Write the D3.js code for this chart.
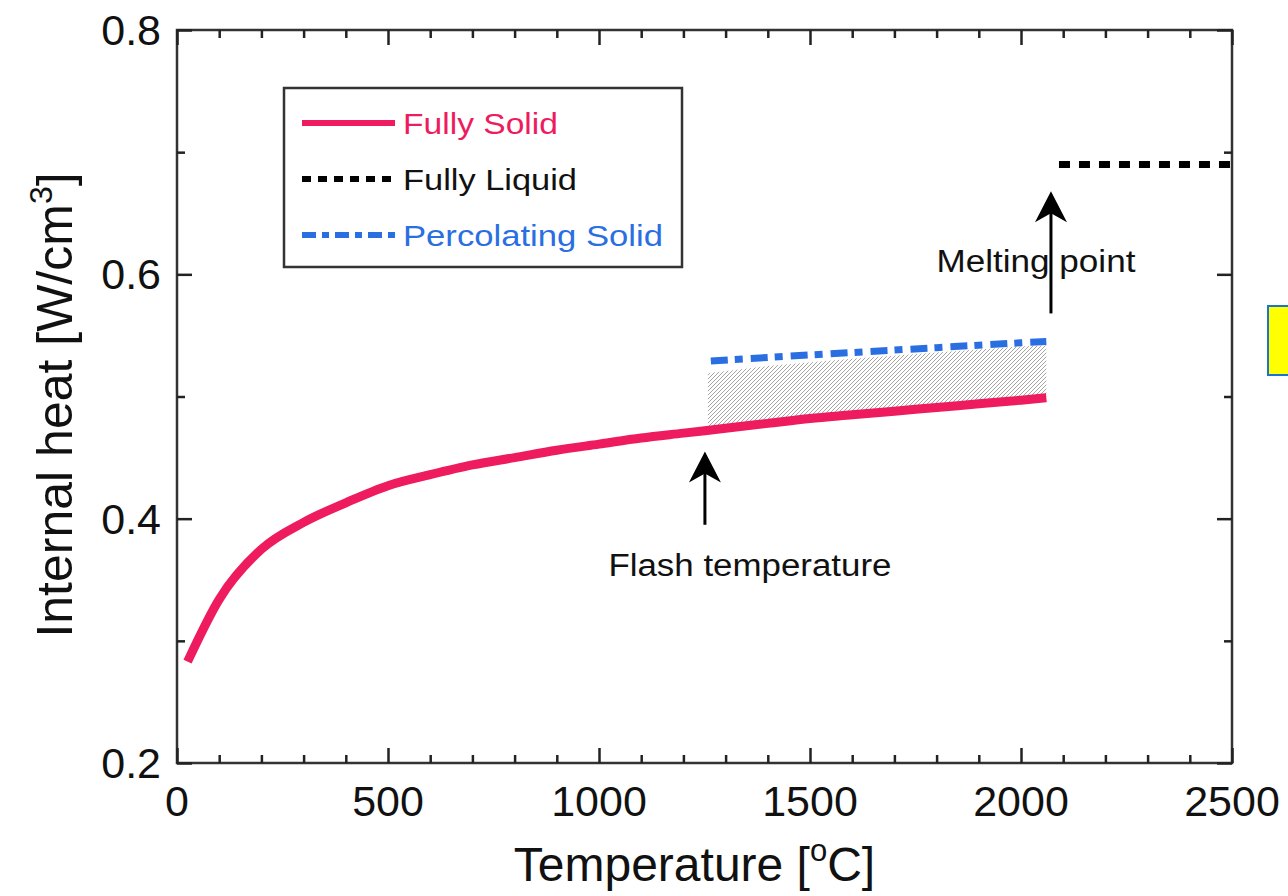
<!DOCTYPE html>
<html>
<head>
<meta charset="utf-8">
<script src="https://cdn.jsdelivr.net/npm/d3@7"></script>
<style>
  body { margin: 0; background: #ffffff; }
  svg { display: block; font-family: "Liberation Sans", Arial, sans-serif; }
</style>
</head>
<body>
<div id="chart"></div>
<script>
// Fully solid curve (temperature in °C, internal heat in W/cm3)
const solidT    = [25, 100, 200, 300, 400, 500, 600, 700, 800, 900, 1000, 1100, 1200, 1300, 1400, 1500, 1600, 1700, 1800, 1900, 2000, 2060];
const solidHeat = [0.283, 0.334, 0.375, 0.397, 0.413, 0.427, 0.436, 0.444, 0.450, 0.456, 0.461, 0.466, 0.470, 0.474, 0.478, 0.482, 0.485, 0.488, 0.491, 0.494, 0.497, 0.499];

// Percolating solid (dash-dot)
const percT    = [1265, 1400, 1600, 1800, 2000, 2060];
const percHeat = [0.529, 0.532, 0.536, 0.540, 0.544, 0.545];

// Fully liquid (dotted)
const liquidT    = [2090, 2500];
const liquidHeat = [0.690, 0.690];

// Hatched band between solid and percolating
const bandT    = [1258, 1400, 1600, 1800, 2000, 2060];
const bandLow  = [0.473, 0.478, 0.485, 0.491, 0.497, 0.499];
const bandHigh = [0.519, 0.525, 0.531, 0.536, 0.541, 0.542];

// Axes
const xTicks = [0, 500, 1000, 1500, 2000, 2500];
const yTicks = [0.2, 0.4, 0.6, 0.8];

// Annotations: [label, temperature, arrow tail, arrow tip]
const flashNote = ["Flash temperature", 1251, 0.395, 0.455];
const meltNote  = ["Melting point", 2071, 0.568, 0.668];

const legendItems = [
    { label: "Fully Solid", color: "#ee1b5e", dash: null, len: 155 },
    { label: "Fully Liquid", color: "#000000", dash: "9,7", len: 174 },
    { label: "Percolating Solid", color: "#2a6fe2", dash: "14,6,7,6", len: 260 }
];

const W = 1288, H = 896;
const margin = { top: 30, right: 56, bottom: 133, left: 177 },
    width = W - margin.left - margin.right,
    height = H - margin.top - margin.bottom;

const svgRoot = d3.select("#chart")
    .append("svg")
    .attr("width", W)
    .attr("height", H);

// Hatch pattern for the band
const defs = svgRoot.append("defs");
const pat = defs.append("pattern")
    .attr("id", "hatch")
    .attr("patternUnits", "userSpaceOnUse")
    .attr("width", 4)
    .attr("height", 4);
pat.append("path")
    .attr("d", "M-1,1 L1,-1 M0,4 L4,0 M3,5 L5,3")
    .attr("stroke", "#a5a5a5")
    .attr("stroke-width", 1);

const svg = svgRoot.append("g")
    .attr("transform", `translate(${margin.left},${margin.top})`);

const x = d3.scaleLinear().domain([0, 2500]).range([0, width]);
const y = d3.scaleLinear().domain([0.2, 0.8]).range([height, 0]);

// Band
const band = bandT.map((t, i) => ({ t: t, lo: bandLow[i], hi: bandHigh[i] }));
svg.append("path")
    .datum(band)
    .attr("fill", "url(#hatch)")
    .attr("d", d3.area().x(d => x(d.t)).y0(d => y(d.lo)).y1(d => y(d.hi)));

const line = d3.line().x(d => x(d[0])).y(d => y(d[1]));

// Fully solid
svg.append("path")
    .datum(solidT.map((t, i) => [t, solidHeat[i]]))
    .attr("fill", "none")
    .attr("stroke", "#ee1b5e")
    .attr("stroke-width", 9)
    .attr("stroke-linejoin", "round")
    .attr("d", line.curve(d3.curveMonotoneX));

line.curve(d3.curveLinear);

// Percolating solid
svg.append("path")
    .datum(percT.map((t, i) => [t, percHeat[i]]))
    .attr("fill", "none")
    .attr("stroke", "#2a6fe2")
    .attr("stroke-width", 7)
    .attr("stroke-dasharray", "17,7,8,8")
    .attr("d", line);

// Fully liquid
svg.append("path")
    .datum(liquidT.map((t, i) => [t, liquidHeat[i]]))
    .attr("fill", "none")
    .attr("stroke", "#000000")
    .attr("stroke-width", 7)
    .attr("stroke-dasharray", "11,9")
    .attr("d", line);

// Frame
svg.append("rect")
    .attr("width", width)
    .attr("height", height)
    .attr("fill", "none")
    .attr("stroke", "#333333")
    .attr("stroke-width", 2.5);

// Inward ticks on all four sides
const xMinor = d3.range(0, 2501, 100).filter(v => v % 500 !== 0);
const yMinor = [0.3, 0.5, 0.7];
const tickSides = [
    { axis: d3.axisBottom(x), t: `translate(0,${height})`, major: xTicks, minor: xMinor },
    { axis: d3.axisTop(x), t: "translate(0,0)", major: xTicks, minor: xMinor },
    { axis: d3.axisLeft(y), t: "translate(0,0)", major: yTicks, minor: yMinor },
    { axis: d3.axisRight(y), t: `translate(${width},0)`, major: yTicks, minor: yMinor }
];
tickSides.forEach(s => {
    [[s.major, 15], [s.minor, 8]].forEach(([vals, len]) => {
        const g = svg.append("g")
            .attr("transform", s.t)
            .call(s.axis.tickValues(vals).tickSize(-len).tickFormat(""));
        g.select(".domain").remove();
        g.selectAll(".tick line").attr("stroke", "#222").attr("stroke-width", 2.5);
    });
});

// Tick labels
svg.selectAll(".xlab")
    .data(xTicks)
    .enter()
    .append("text")
    .attr("x", d => x(d))
    .attr("y", height + 53)
    .attr("text-anchor", "middle")
    .attr("font-size", "43px")
    .attr("fill", "#111")
    .text(d => d);

svg.selectAll(".ylab")
    .data(yTicks)
    .enter()
    .append("text")
    .attr("x", -16)
    .attr("y", d => y(d) + 15)
    .attr("text-anchor", "end")
    .attr("font-size", "43px")
    .attr("fill", "#111")
    .text(d => d.toFixed(1));

// Axis titles
const xt = svg.append("text")
    .attr("x", width / 2 - 10)
    .attr("y", height + 118)
    .attr("text-anchor", "middle")
    .attr("font-size", "48px")
    .attr("fill", "#111");
xt.append("tspan").text("Temperature [");
xt.append("tspan").attr("dy", -20).attr("font-size", "31px").text("o");
xt.append("tspan").attr("dy", 20).text("C]");

const yt = svg.append("text")
    .attr("transform", "rotate(-90)")
    .attr("x", -(405 - margin.top))
    .attr("y", -105)
    .attr("text-anchor", "middle")
    .attr("font-size", "50px")
    .attr("fill", "#111");
yt.append("tspan").text("Internal heat [W/cm");
yt.append("tspan").attr("dy", -20).attr("font-size", "32px").text("3");
yt.append("tspan").attr("dy", 20).text("]");

// Legend
const legend = svg.append("g").attr("transform", "translate(107,58)");
legend.append("rect")
    .attr("width", 398)
    .attr("height", 179)
    .attr("fill", "#ffffff")
    .attr("stroke", "#333333")
    .attr("stroke-width", 2.5);
legendItems.forEach((d, i) => {
    const ly = 35 + i * 56;
    legend.append("line")
        .attr("x1", 18).attr("x2", 111)
        .attr("y1", ly).attr("y2", ly)
        .attr("stroke", d.color)
        .attr("stroke-width", 6)
        .attr("stroke-dasharray", d.dash);
    legend.append("text")
        .attr("x", 119)
        .attr("y", ly + 11)
        .attr("font-size", "29px")
        .attr("textLength", d.len)
        .attr("lengthAdjust", "spacingAndGlyphs")
        .attr("fill", d.color === "#000000" ? "#111" : d.color)
        .text(d.label);
});

// Arrows
[flashNote, meltNote].forEach(n => {
    const tx = x(n[1]), ty = y(n[3]);
    svg.append("line")
        .attr("x1", tx).attr("x2", tx)
        .attr("y1", y(n[2])).attr("y2", ty + 20)
        .attr("stroke", "#000")
        .attr("stroke-width", 3);
    svg.append("path")
        .attr("d", `M${tx},${ty} L${tx + 16},${ty + 31} L${tx},${ty + 22} L${tx - 16},${ty + 31} Z`)
        .attr("fill", "#000");
});

svg.append("text")
    .attr("x", x(flashNote[1]) + 45)
    .attr("y", y(flashNote[2]) + 51)
    .attr("text-anchor", "middle")
    .attr("font-size", "31px")
    .attr("textLength", 283)
    .attr("lengthAdjust", "spacingAndGlyphs")
    .attr("fill", "#111")
    .text(flashNote[0]);

svg.append("text")
    .attr("x", x(meltNote[1]) - 15)
    .attr("y", y(meltNote[2]) - 41)
    .attr("text-anchor", "middle")
    .attr("font-size", "31px")
    .attr("textLength", 199)
    .attr("lengthAdjust", "spacingAndGlyphs")
    .attr("fill", "#111")
    .text(meltNote[0]);

// Yellow note box cut at the right edge
svgRoot.append("rect")
    .attr("x", 1268)
    .attr("y", 306)
    .attr("width", 40)
    .attr("height", 69)
    .attr("fill", "#ffff00")
    .attr("stroke", "#1a72d2")
    .attr("stroke-width", 2);
</script>
</body>
</html>
